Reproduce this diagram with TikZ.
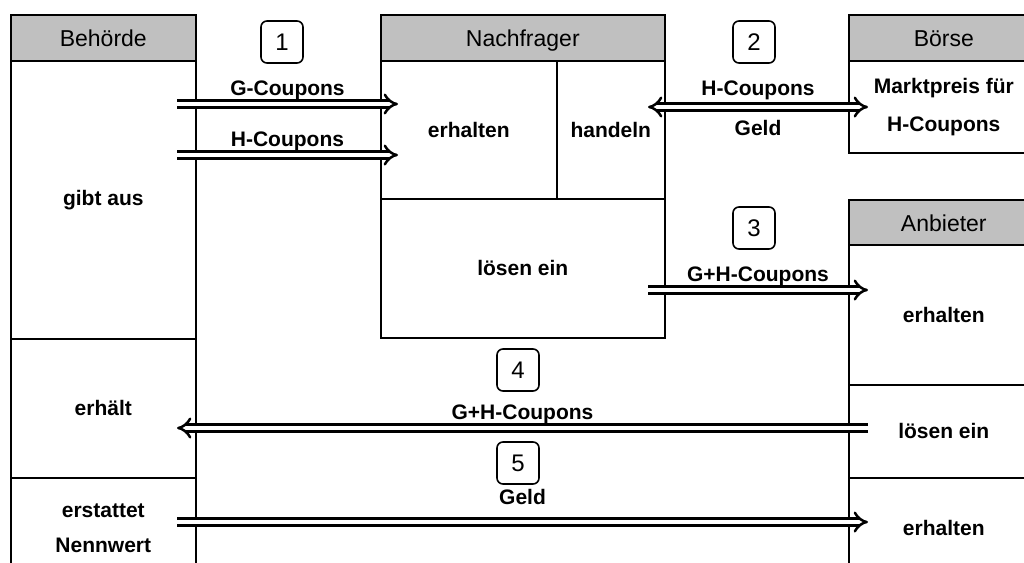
\documentclass[tikz,border=0pt]{standalone}
\usepackage{fontspec}
\setmainfont{Liberation Sans}
\usetikzlibrary{arrows.meta}
\definecolor{headgray}{HTML}{C0C0C0}

\tikzset{
  frame/.style 2 args={draw, line width=1.6pt, anchor=north west, inner sep=0pt,
    minimum width=#1, minimum height=#2, align=center},
  head/.style 2 args={frame={#1}{#2}, fill=headgray, text height=18pt, text depth=0pt,
    font=\fontsize{23}{27}\selectfont},
  cell/.style 2 args={frame={#1}{#2}, font=\fontsize{21}{35}\selectfont\bfseries},
  numbox/.style={draw, line width=1.6pt, rounded corners=6pt, minimum size=42pt,
    inner sep=0pt, font=\fontsize{24}{28}\selectfont},
  flow/.style={double, line width=2.5pt, double distance=4.5pt, -{Implies[scale=1.6]}},
  flowlabel/.style={font=\fontsize{21}{25}\selectfont\bfseries}
}

\begin{document}
\begin{tikzpicture}[x=1pt, y=-1pt]
  \useasboundingbox (0,0) rectangle (1024,562);
  \clip (0,0) rectangle (1024,562);

  \node [head={185}{46}] (behoerde) at (10,14) {Behörde};
  \node [cell={185}{278}] (gibtaus) at (10,60) {gibt aus};
  \node [cell={185}{139}] (erhaelt) at (10,338) {erhält};
  \node [cell={185}{100}] (erstattet) at (10,477) {erstattet\\Nennwert};

  \node [head={284}{46}] (nachfrager) at (380,14) {Nachfrager};
  \node [cell={176}{138}] (nerhalten) at (380,60) {erhalten};
  \node [cell={108}{138}] (handeln) at (556,60) {handeln};
  \node [cell={284}{139}] (nloesen) at (380,198) {lösen ein};

  \node [head={190}{46}] (boerse) at (848,14) {Börse};
  \node [cell={190}{92}, font=\fontsize{21}{38}\selectfont\bfseries] (marktpreis)
    at (848,60) {Marktpreis für\\H-Coupons};

  \node [head={190}{45}] (anbieter) at (848,199) {Anbieter};
  \node [cell={190}{140}] (aerhalten) at (848,244) {erhalten};
  \node [cell={190}{93}] (aloesen) at (848,384) {lösen ein};
  \node [cell={190}{100}] (aerhalten2) at (848,477) {erhalten};

  \node [numbox] (n1) at (282,42) {1};
  \node [numbox] (n2) at (754,42) {2};
  \node [numbox] (n3) at (754,228) {3};
  \node [numbox] (n4) at (518,370) {4};
  \node [numbox] (n5) at (518,463) {5};

  \coordinate (gs) at (177,104);
  \coordinate (ge) at (398,104);
  \coordinate (hs) at (177,155);
  \coordinate (he) at (398,155);
  \coordinate (ts) at (648,107);
  \coordinate (te) at (868,107);
  \coordinate (ls) at (648,290);
  \coordinate (le) at (868,290);
  \coordinate (rs) at (868,428);
  \coordinate (re) at (177,428);
  \coordinate (ps) at (177,522);
  \coordinate (pe) at (868,522);

  \draw [flow] (gs) -- node[flowlabel, above] {G-Coupons} (ge);
  \draw [flow] (hs) -- node[flowlabel, above] {H-Coupons} (he);
  \draw [flow, {Implies[scale=1.6]}-{Implies[scale=1.6]}] (ts) --
    node[flowlabel, above=3pt] {H-Coupons}
    node[flowlabel, below=9pt] {Geld} (te);
  \draw [flow] (ls) -- node[flowlabel, above] {G+H-Coupons} (le);
  \draw [flow] (rs) -- node[flowlabel, above] {G+H-Coupons} (re);
  \draw [flow] (ps) -- node[flowlabel, above=13pt] {Geld} (pe);
\end{tikzpicture}
\end{document}
